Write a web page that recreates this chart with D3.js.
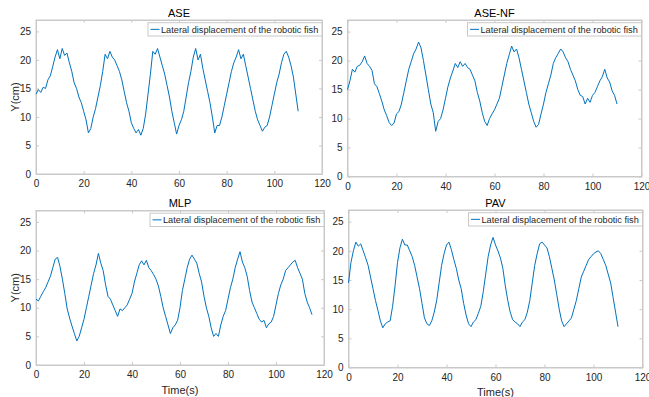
<!DOCTYPE html>
<html><head><meta charset="utf-8">
<script src="https://cdn.jsdelivr.net/npm/d3@7"></script>
<style>
html,body{margin:0;padding:0;background:#fff;}
svg{display:block;font-family:"Liberation Sans",Arial,sans-serif;}
</style></head>
<body><svg id="c" width="649" height="397"></svg>
<script>
// ---------- data (1 s sampling) ----------
const titles = ["ASE", "ASE-NF", "MLP", "PAV"];
const legendLabel = "Lateral displacement of the robotic fish";
const xTicks = [0, 20, 40, 60, 80, 100, 120];
const yTicks = [0, 5, 10, 15, 20, 25];
const xLabel = "Time(s)";
const yLabel = "Y(cm)";

const aseY = [14,14.8,14.3,15.2,15,16.5,17.2,18.8,20.5,21.8,20.2,22,20.8,21.2,19.5,18,16,15,13.5,12.5,
  11,9.5,7.2,8,10,11.5,13.5,15.5,18,21,20.2,21.5,20.5,20,19,18,16.5,14.5,12.5,11,
  9,8,7.2,7.8,6.8,8,10.5,14,17.5,21.5,21,22,20.5,19,17.5,15.5,13.5,11,9,7,
  8.5,9.5,11,13.5,16,18,20.5,22,20,21,18.5,16.5,14.5,12.5,10,7.2,8.5,8.5,10,12,
  14,16,18,19.5,20.5,21.8,20.2,21,19,17,15,13,11,9.5,8.5,7.5,8.2,8.5,10,12,
  14,16,17.5,19.5,21,21.5,20.5,19,17,14,11];

const aseNfY = [15,16.5,18.5,18,19,19.2,19.8,20.8,19.5,19,18.3,16,15.5,14.3,13,11.5,10.5,9.3,8.8,9.2,
  10.8,11.2,12.5,14.5,16.5,18.5,19.8,21.2,22,23.2,22.2,20,17.5,15,12.5,11,7.8,9.5,10,11.5,
  13.5,15.5,17,18.2,19.5,18.8,19.8,19,19.5,18.8,18.5,17.5,16.5,14.5,13,11,9.5,8.8,10,10.8,
  11.5,12.5,13.5,15.5,17.5,19.5,21,22.5,21.5,22,20.5,18.5,16.5,14.5,12.5,11,9.5,8.5,9,10.8,
  12.5,14.5,16,17.5,19.5,20.5,21.2,22,21.5,20.5,19.8,18.5,17.5,16.5,15,14,13.8,12.5,13.5,12.8,
  14,14.5,15.5,16.5,17.2,18.5,17,16.3,14.8,14,12.5];

const mlpY = [11.5,11.2,12,12.8,13.5,14.5,15.5,17,18.5,18.8,17.2,15,12.5,9.8,8.2,6.8,5.5,4.2,5,6.5,
  8,10,12,14,16,17.5,19.5,17.8,16.5,14,12,11.5,10.5,9.5,8.5,9.8,9.5,10,10.5,11.5,
  12.5,14.5,16,17.5,18.2,17.5,18.3,17,16.5,15.8,15,13.8,12,10,8.5,7,5.5,6.5,7,7.8,
  10,13,15,17,18.5,19.2,18.5,17.8,16,14.5,12,10,8.5,6.5,5,5.5,5,7,8.5,9.5,
  11.5,13.5,15,17,18.5,19.8,18,17,15.5,13,11,10,9,8,7.5,7.8,6.5,7.2,7.5,8.5,
  10.5,12.5,14,15,16.5,17,17.5,18,18.3,17,16,15,12.5,11,10,8.8];

const pavY = [14.5,18,20,21.5,20.8,21.2,20,18.8,17.5,15.5,13.5,11.5,9.8,8,6.8,7.5,7.8,8,10.5,14,
  18,20.5,22,21,21,20,19,17.5,15.5,13.5,11,8.5,7.5,7.2,8,9.5,11.5,14.5,17.5,19.5,
  21,21.5,20.2,18.5,17,15,13.5,11,9,7.5,7,7.8,8.2,9.3,10.5,13,16,19,21,22.3,
  21,20,18.8,17,14,11.5,9.5,8.2,7.8,7.5,7,7.8,8.2,9.5,11.5,14.5,17.5,19.5,21.2,21.5,
  21,20.5,19,17,15,12.5,10,8,7,7.5,8,8.5,10,11.5,13.5,15.5,16.5,17.5,18.5,19,
  19.5,19.8,20,19.5,18.5,17.5,16,14.5,12,9.5,7];

const seriesList = [aseY, aseNfY, mlpY, pavY];

// ---------- layout ----------
const panels = [
  {l:36,   t:20,    r:322,   b:174,   ylab:true,  xlab:false, titleY:17},
  {l:347.5,t:20,    r:641.5, b:176.5, ylab:false, xlab:false, titleY:16.5},
  {l:36,   t:210.5, r:324,   b:365,   ylab:true,  xlab:true,  titleY:207, xlabY:394},
  {l:348.5,t:210,   r:642.5, b:367.5, ylab:false, xlab:true,  titleY:206.5, xlabY:396}
];

const svg = d3.select("#c");
const lineColor = "#0072BD";
const axisColor = "#c9c9c9";
const textColor = "#262626";

panels.forEach((p, i) => {
  const x = d3.scaleLinear().domain([0, 120]).range([p.l, p.r]);
  const y = d3.scaleLinear().domain([0, 27]).range([p.b, p.t]);
  const g = svg.append("g");

  // background box
  g.append("rect").attr("x", p.l).attr("y", p.t).attr("width", p.r - p.l).attr("height", p.b - p.t)
    .attr("fill", "#fff").attr("stroke", axisColor).attr("stroke-width", 1);

  // axes
  const xa = g.append("g").attr("transform", `translate(0,${p.b})`)
    .call(d3.axisBottom(x).tickValues(xTicks).tickSizeInner(-3).tickSizeOuter(0).tickPadding(6));
  const xt = g.append("g").attr("transform", `translate(0,${p.t})`)
    .call(d3.axisTop(x).tickValues(xTicks).tickSizeInner(-3).tickSizeOuter(0).tickFormat(""));
  const ya = g.append("g").attr("transform", `translate(${p.l},0)`)
    .call(d3.axisLeft(y).tickValues(yTicks).tickSizeInner(-3).tickSizeOuter(0).tickPadding(5));
  const yr = g.append("g").attr("transform", `translate(${p.r},0)`)
    .call(d3.axisRight(y).tickValues(yTicks).tickSizeInner(-3).tickSizeOuter(0).tickFormat(""));
  [xa, xt, ya, yr].forEach(a => {
    a.select(".domain").attr("stroke", axisColor);
    a.selectAll(".tick line").attr("stroke", axisColor);
    a.selectAll(".tick text").attr("fill", textColor).attr("font-size", 10)
      .attr("font-family", "Liberation Sans, Arial, sans-serif");
  });

  // data line
  const vals = seriesList[i];
  const times = d3.range(vals.length);
  const line = d3.line().x((d, k) => x(times[k])).y(d => y(d));
  g.append("path").datum(vals).attr("d", line).attr("fill", "none")
    .attr("stroke", lineColor).attr("stroke-width", 1).attr("stroke-linejoin", "round");

  // title
  g.append("text").attr("x", (p.l + p.r) / 2).attr("y", p.titleY).attr("text-anchor", "middle")
    .attr("font-size", 11).attr("fill", "#000").text(titles[i]);

  // legend
  const lw = 174, lh = 13.3;
  const lx = p.r - lw, ly = p.t + 2.7;
  g.append("rect").attr("x", lx).attr("y", ly).attr("width", lw).attr("height", lh)
    .attr("fill", "#fff").attr("stroke", axisColor).attr("stroke-width", 1);
  g.append("line").attr("x1", lx + 2.5).attr("x2", lx + 11.5).attr("y1", ly + lh / 2).attr("y2", ly + lh / 2)
    .attr("stroke", lineColor).attr("stroke-width", 1);
  g.append("text").attr("x", lx + 13).attr("y", ly + lh / 2 + 3.3)
    .attr("font-size", 9.2).attr("fill", textColor).text(legendLabel);

  if (p.ylab) {
    g.append("text").attr("transform", `translate(${p.l - 17},${(p.t + p.b) / 2}) rotate(-90)`)
      .attr("text-anchor", "middle").attr("font-size", 11).attr("fill", textColor).text(yLabel);
  }
  if (p.xlab) {
    g.append("text").attr("x", (p.l + p.r) / 2).attr("y", p.xlabY).attr("text-anchor", "middle")
      .attr("font-size", 11).attr("fill", textColor).text(xLabel);
  }
});
</script>
</body></html>
